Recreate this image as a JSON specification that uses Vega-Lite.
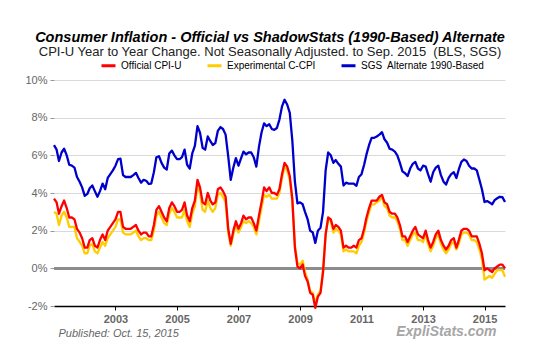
{
 "$schema": "https://vega.github.io/schema/vega-lite/v6.json",
 "width": 451,
 "height": 226,
 "autosize": {"type": "none"},
 "padding": {"left": 54, "top": 80, "right": 35, "bottom": 50},
 "background": "white",
 "config": {
  "font": "Liberation Sans",
  "view": {"stroke": null},
  "axisX": {"domainColor": "#000", "domainWidth": 1.5, "tickColor": "#000", "tickSize": 4, "labelFontWeight": "bold", "labelColor": "#666", "labelFontSize": 11, "labelPadding": 3, "grid": false, "labelFont": "Liberation Sans"},
  "axisY": {"domain": false, "grid": true, "gridColor": "#d9d9d9", "gridWidth": 1, "tickColor": "#999", "tickSize": 4, "labelColor": "#666", "labelFontSize": 11, "labelPadding": 3, "labelFont": "Liberation Sans", "labelOverlap": false}
 },
 "title": {
  "text": "Consumer Inflation - Official vs ShadowStats (1990-Based) Alternate",
  "subtitle": "CPI-U Year to Year Change. Not Seasonally Adjusted. to Sep. 2015\u00a0 (BLS, SGS)",
  "anchor": "middle", "frame": "group", "dx": -9.5, "offset": -3,
  "font": "Liberation Sans", "fontSize": 14.5, "fontStyle": "italic", "fontWeight": "bold", "color": "#000",
  "subtitleFont": "Liberation Sans", "subtitleFontSize": 13, "subtitleColor": "#222", "subtitlePadding": 1
 },
 "data": {"values": [
{"date":"2001-01-01","cpi":3.7,"ccpi":3.0,"sgs":6.54},
{"date":"2001-02-01","cpi":3.5,"ccpi":2.9,"sgs":6.3},
{"date":"2001-03-01","cpi":2.9,"ccpi":2.3,"sgs":5.7},
{"date":"2001-04-01","cpi":3.3,"ccpi":2.8,"sgs":6.15},
{"date":"2001-05-01","cpi":3.6,"ccpi":3.0,"sgs":6.35},
{"date":"2001-06-01","cpi":3.2,"ccpi":2.7,"sgs":6.0},
{"date":"2001-07-01","cpi":2.7,"ccpi":2.2,"sgs":5.5},
{"date":"2001-08-01","cpi":2.7,"ccpi":2.2,"sgs":5.45},
{"date":"2001-09-01","cpi":2.6,"ccpi":2.2,"sgs":5.35},
{"date":"2001-10-01","cpi":2.1,"ccpi":1.6,"sgs":4.85},
{"date":"2001-11-01","cpi":1.9,"ccpi":1.4,"sgs":4.6},
{"date":"2001-12-01","cpi":1.6,"ccpi":1.2,"sgs":4.3},
{"date":"2002-01-01","cpi":1.1,"ccpi":0.8,"sgs":3.85},
{"date":"2002-02-01","cpi":1.1,"ccpi":0.8,"sgs":3.95},
{"date":"2002-03-01","cpi":1.5,"ccpi":1.2,"sgs":4.25},
{"date":"2002-04-01","cpi":1.6,"ccpi":1.3,"sgs":4.4},
{"date":"2002-05-01","cpi":1.2,"ccpi":0.9,"sgs":4.1},
{"date":"2002-06-01","cpi":1.1,"ccpi":0.8,"sgs":3.8},
{"date":"2002-07-01","cpi":1.5,"ccpi":1.1,"sgs":4.1},
{"date":"2002-08-01","cpi":1.8,"ccpi":1.4,"sgs":4.5},
{"date":"2002-09-01","cpi":1.5,"ccpi":1.2,"sgs":4.2},
{"date":"2002-10-01","cpi":2.0,"ccpi":1.6,"sgs":4.8},
{"date":"2002-11-01","cpi":2.2,"ccpi":1.8,"sgs":5.0},
{"date":"2002-12-01","cpi":2.4,"ccpi":2.0,"sgs":5.2},
{"date":"2003-01-01","cpi":2.6,"ccpi":2.2,"sgs":5.45},
{"date":"2003-02-01","cpi":3.0,"ccpi":2.6,"sgs":5.8},
{"date":"2003-03-01","cpi":3.0,"ccpi":2.6,"sgs":5.82},
{"date":"2003-04-01","cpi":2.2,"ccpi":1.9,"sgs":4.95},
{"date":"2003-05-01","cpi":2.1,"ccpi":1.8,"sgs":4.85},
{"date":"2003-06-01","cpi":2.1,"ccpi":1.8,"sgs":4.85},
{"date":"2003-07-01","cpi":2.1,"ccpi":1.8,"sgs":4.85},
{"date":"2003-08-01","cpi":2.2,"ccpi":1.9,"sgs":4.95},
{"date":"2003-09-01","cpi":2.3,"ccpi":2.0,"sgs":5.07},
{"date":"2003-10-01","cpi":2.0,"ccpi":1.7,"sgs":4.8},
{"date":"2003-11-01","cpi":1.8,"ccpi":1.5,"sgs":4.55},
{"date":"2003-12-01","cpi":1.9,"ccpi":1.6,"sgs":4.7},
{"date":"2004-01-01","cpi":1.9,"ccpi":1.6,"sgs":4.65},
{"date":"2004-02-01","cpi":1.7,"ccpi":1.5,"sgs":4.48},
{"date":"2004-03-01","cpi":1.7,"ccpi":1.5,"sgs":4.5},
{"date":"2004-04-01","cpi":2.3,"ccpi":2.0,"sgs":5.1},
{"date":"2004-05-01","cpi":3.1,"ccpi":2.8,"sgs":5.9},
{"date":"2004-06-01","cpi":3.3,"ccpi":3.0,"sgs":5.95},
{"date":"2004-07-01","cpi":3.0,"ccpi":2.7,"sgs":5.6},
{"date":"2004-08-01","cpi":2.7,"ccpi":2.4,"sgs":5.35},
{"date":"2004-09-01","cpi":2.5,"ccpi":2.3,"sgs":5.25},
{"date":"2004-10-01","cpi":3.2,"ccpi":2.9,"sgs":6.1},
{"date":"2004-11-01","cpi":3.5,"ccpi":3.2,"sgs":6.25},
{"date":"2004-12-01","cpi":3.3,"ccpi":3.0,"sgs":6.0},
{"date":"2005-01-01","cpi":3.0,"ccpi":2.7,"sgs":5.8},
{"date":"2005-02-01","cpi":3.0,"ccpi":2.7,"sgs":5.8},
{"date":"2005-03-01","cpi":3.1,"ccpi":2.7,"sgs":5.9},
{"date":"2005-04-01","cpi":3.5,"ccpi":3.1,"sgs":6.3},
{"date":"2005-05-01","cpi":2.8,"ccpi":2.5,"sgs":5.5},
{"date":"2005-06-01","cpi":2.5,"ccpi":2.2,"sgs":5.3},
{"date":"2005-07-01","cpi":3.2,"ccpi":2.9,"sgs":6.1},
{"date":"2005-08-01","cpi":3.6,"ccpi":3.3,"sgs":6.5},
{"date":"2005-09-01","cpi":4.7,"ccpi":4.4,"sgs":7.55},
{"date":"2005-10-01","cpi":4.3,"ccpi":4.0,"sgs":7.2},
{"date":"2005-11-01","cpi":3.5,"ccpi":3.1,"sgs":6.4},
{"date":"2005-12-01","cpi":3.4,"ccpi":3.0,"sgs":6.3},
{"date":"2006-01-01","cpi":4.0,"ccpi":3.6,"sgs":7.0},
{"date":"2006-02-01","cpi":3.6,"ccpi":3.2,"sgs":6.75},
{"date":"2006-03-01","cpi":3.4,"ccpi":3.0,"sgs":6.55},
{"date":"2006-04-01","cpi":3.5,"ccpi":3.2,"sgs":6.65},
{"date":"2006-05-01","cpi":4.2,"ccpi":3.9,"sgs":7.3},
{"date":"2006-06-01","cpi":4.3,"ccpi":4.0,"sgs":7.5},
{"date":"2006-07-01","cpi":4.1,"ccpi":3.8,"sgs":7.4},
{"date":"2006-08-01","cpi":3.8,"ccpi":3.5,"sgs":7.1},
{"date":"2006-09-01","cpi":2.1,"ccpi":1.9,"sgs":5.95},
{"date":"2006-10-01","cpi":1.3,"ccpi":1.2,"sgs":4.7},
{"date":"2006-11-01","cpi":2.0,"ccpi":1.8,"sgs":5.35},
{"date":"2006-12-01","cpi":2.5,"ccpi":2.3,"sgs":5.85},
{"date":"2007-01-01","cpi":2.1,"ccpi":1.9,"sgs":5.45},
{"date":"2007-02-01","cpi":2.4,"ccpi":2.2,"sgs":5.85},
{"date":"2007-03-01","cpi":2.8,"ccpi":2.5,"sgs":6.2},
{"date":"2007-04-01","cpi":2.6,"ccpi":2.4,"sgs":6.05},
{"date":"2007-05-01","cpi":2.7,"ccpi":2.5,"sgs":6.15},
{"date":"2007-06-01","cpi":2.7,"ccpi":2.4,"sgs":6.15},
{"date":"2007-07-01","cpi":2.4,"ccpi":2.2,"sgs":5.9},
{"date":"2007-08-01","cpi":2.0,"ccpi":1.8,"sgs":5.4},
{"date":"2007-09-01","cpi":2.8,"ccpi":2.5,"sgs":6.45},
{"date":"2007-10-01","cpi":3.5,"ccpi":3.2,"sgs":7.2},
{"date":"2007-11-01","cpi":4.3,"ccpi":3.9,"sgs":7.7},
{"date":"2007-12-01","cpi":4.1,"ccpi":3.8,"sgs":7.55},
{"date":"2008-01-01","cpi":4.3,"ccpi":3.9,"sgs":7.65},
{"date":"2008-02-01","cpi":4.0,"ccpi":3.7,"sgs":7.4},
{"date":"2008-03-01","cpi":4.0,"ccpi":3.7,"sgs":7.35},
{"date":"2008-04-01","cpi":3.9,"ccpi":3.7,"sgs":7.45},
{"date":"2008-05-01","cpi":4.2,"ccpi":4.0,"sgs":7.9},
{"date":"2008-06-01","cpi":5.0,"ccpi":4.8,"sgs":8.6},
{"date":"2008-07-01","cpi":5.6,"ccpi":5.4,"sgs":8.95},
{"date":"2008-08-01","cpi":5.4,"ccpi":5.2,"sgs":8.7},
{"date":"2008-09-01","cpi":4.9,"ccpi":4.7,"sgs":8.25},
{"date":"2008-10-01","cpi":3.7,"ccpi":3.6,"sgs":6.8},
{"date":"2008-11-01","cpi":1.1,"ccpi":1.2,"sgs":4.6},
{"date":"2008-12-01","cpi":0.1,"ccpi":0.3,"sgs":3.45},
{"date":"2009-01-01","cpi":0.0,"ccpi":0.2,"sgs":3.5},
{"date":"2009-02-01","cpi":0.2,"ccpi":0.4,"sgs":3.4},
{"date":"2009-03-01","cpi":-0.4,"ccpi":-0.2,"sgs":3.0},
{"date":"2009-04-01","cpi":-0.7,"ccpi":-0.6,"sgs":2.6},
{"date":"2009-05-01","cpi":-1.3,"ccpi":-1.2,"sgs":2.0},
{"date":"2009-06-01","cpi":-1.4,"ccpi":-1.3,"sgs":1.9},
{"date":"2009-07-01","cpi":-2.1,"ccpi":-1.9,"sgs":1.35},
{"date":"2009-08-01","cpi":-1.5,"ccpi":-1.4,"sgs":2.0},
{"date":"2009-09-01","cpi":-1.3,"ccpi":-1.2,"sgs":2.15},
{"date":"2009-10-01","cpi":-0.2,"ccpi":-0.1,"sgs":3.0},
{"date":"2009-11-01","cpi":1.8,"ccpi":1.8,"sgs":5.2},
{"date":"2009-12-01","cpi":2.7,"ccpi":2.6,"sgs":6.15},
{"date":"2010-01-01","cpi":2.6,"ccpi":2.5,"sgs":6.0},
{"date":"2010-02-01","cpi":2.1,"ccpi":1.9,"sgs":5.6},
{"date":"2010-03-01","cpi":2.3,"ccpi":2.1,"sgs":5.75},
{"date":"2010-04-01","cpi":2.2,"ccpi":2.0,"sgs":5.55},
{"date":"2010-05-01","cpi":2.0,"ccpi":1.8,"sgs":5.4},
{"date":"2010-06-01","cpi":1.1,"ccpi":0.9,"sgs":4.4},
{"date":"2010-07-01","cpi":1.2,"ccpi":1.0,"sgs":4.55},
{"date":"2010-08-01","cpi":1.1,"ccpi":0.9,"sgs":4.5},
{"date":"2010-09-01","cpi":1.1,"ccpi":0.9,"sgs":4.5},
{"date":"2010-10-01","cpi":1.2,"ccpi":0.9,"sgs":4.5},
{"date":"2010-11-01","cpi":1.1,"ccpi":0.8,"sgs":4.38},
{"date":"2010-12-01","cpi":1.5,"ccpi":1.2,"sgs":4.85},
{"date":"2011-01-01","cpi":1.6,"ccpi":1.4,"sgs":5.0},
{"date":"2011-02-01","cpi":2.1,"ccpi":1.9,"sgs":5.5},
{"date":"2011-03-01","cpi":2.7,"ccpi":2.5,"sgs":6.05},
{"date":"2011-04-01","cpi":3.2,"ccpi":3.0,"sgs":6.55},
{"date":"2011-05-01","cpi":3.6,"ccpi":3.4,"sgs":6.93},
{"date":"2011-06-01","cpi":3.6,"ccpi":3.4,"sgs":6.93},
{"date":"2011-07-01","cpi":3.6,"ccpi":3.5,"sgs":7.0},
{"date":"2011-08-01","cpi":3.8,"ccpi":3.6,"sgs":7.1},
{"date":"2011-09-01","cpi":3.9,"ccpi":3.8,"sgs":7.23},
{"date":"2011-10-01","cpi":3.5,"ccpi":3.3,"sgs":6.85},
{"date":"2011-11-01","cpi":3.4,"ccpi":3.2,"sgs":6.67},
{"date":"2011-12-01","cpi":3.0,"ccpi":2.8,"sgs":6.35},
{"date":"2012-01-01","cpi":2.9,"ccpi":2.7,"sgs":6.3},
{"date":"2012-02-01","cpi":2.9,"ccpi":2.7,"sgs":6.2},
{"date":"2012-03-01","cpi":2.7,"ccpi":2.5,"sgs":6.0},
{"date":"2012-04-01","cpi":2.3,"ccpi":2.1,"sgs":5.6},
{"date":"2012-05-01","cpi":1.7,"ccpi":1.5,"sgs":5.15},
{"date":"2012-06-01","cpi":1.7,"ccpi":1.5,"sgs":5.05},
{"date":"2012-07-01","cpi":1.4,"ccpi":1.2,"sgs":4.9},
{"date":"2012-08-01","cpi":1.7,"ccpi":1.5,"sgs":5.3},
{"date":"2012-09-01","cpi":2.0,"ccpi":1.8,"sgs":5.55},
{"date":"2012-10-01","cpi":2.2,"ccpi":1.9,"sgs":5.65},
{"date":"2012-11-01","cpi":1.8,"ccpi":1.5,"sgs":5.3},
{"date":"2012-12-01","cpi":1.7,"ccpi":1.5,"sgs":5.2},
{"date":"2013-01-01","cpi":1.6,"ccpi":1.4,"sgs":5.45},
{"date":"2013-02-01","cpi":2.0,"ccpi":1.8,"sgs":5.4},
{"date":"2013-03-01","cpi":1.5,"ccpi":1.3,"sgs":5.0},
{"date":"2013-04-01","cpi":1.1,"ccpi":0.9,"sgs":4.6},
{"date":"2013-05-01","cpi":1.4,"ccpi":1.2,"sgs":5.1},
{"date":"2013-06-01","cpi":1.8,"ccpi":1.6,"sgs":5.35},
{"date":"2013-07-01","cpi":2.0,"ccpi":1.8,"sgs":5.45},
{"date":"2013-08-01","cpi":1.5,"ccpi":1.3,"sgs":4.95},
{"date":"2013-09-01","cpi":1.2,"ccpi":1.0,"sgs":4.6},
{"date":"2013-10-01","cpi":1.0,"ccpi":0.8,"sgs":4.45},
{"date":"2013-11-01","cpi":1.2,"ccpi":1.0,"sgs":4.8},
{"date":"2013-12-01","cpi":1.5,"ccpi":1.3,"sgs":5.0},
{"date":"2014-01-01","cpi":1.6,"ccpi":1.4,"sgs":5.1},
{"date":"2014-02-01","cpi":1.1,"ccpi":1.0,"sgs":4.8},
{"date":"2014-03-01","cpi":1.5,"ccpi":1.3,"sgs":5.25},
{"date":"2014-04-01","cpi":2.0,"ccpi":1.8,"sgs":5.65},
{"date":"2014-05-01","cpi":2.1,"ccpi":1.9,"sgs":5.78},
{"date":"2014-06-01","cpi":2.1,"ccpi":1.9,"sgs":5.7},
{"date":"2014-07-01","cpi":2.0,"ccpi":1.8,"sgs":5.45},
{"date":"2014-08-01","cpi":1.7,"ccpi":1.5,"sgs":5.3},
{"date":"2014-09-01","cpi":1.7,"ccpi":1.5,"sgs":5.3},
{"date":"2014-10-01","cpi":1.7,"ccpi":1.4,"sgs":5.2},
{"date":"2014-11-01","cpi":1.3,"ccpi":1.0,"sgs":4.7},
{"date":"2014-12-01","cpi":0.8,"ccpi":0.5,"sgs":4.2},
{"date":"2015-01-01","cpi":-0.1,"ccpi":-0.6,"sgs":3.52},
{"date":"2015-02-01","cpi":0.0,"ccpi":-0.5,"sgs":3.57},
{"date":"2015-03-01","cpi":-0.1,"ccpi":-0.4,"sgs":3.5},
{"date":"2015-04-01","cpi":-0.2,"ccpi":-0.5,"sgs":3.4},
{"date":"2015-05-01","cpi":0.0,"ccpi":-0.3,"sgs":3.62},
{"date":"2015-06-01","cpi":0.1,"ccpi":-0.1,"sgs":3.72},
{"date":"2015-07-01","cpi":0.2,"ccpi":-0.1,"sgs":3.8},
{"date":"2015-08-01","cpi":0.2,"ccpi":-0.1,"sgs":3.78},
{"date":"2015-09-01","cpi":0.0,"ccpi":-0.45,"sgs":3.52}
 ]},
 "layer": [
  {
   "mark": {"type": "rule", "color": "#8c8c8c", "strokeWidth": 2.5},
   "encoding": {"y": {"datum": 0, "type": "quantitative", "scale": {"domain": [-2, 10]},
     "axis": {"values": [-2, 0, 2, 4, 6, 8, 10], "tickCount": 12, "labelExpr": "datum.value + '%'", "title": null, "grid": true, "labelOverlap": false}}}
  },
  {
   "transform": [{"fold": ["ccpi", "cpi", "sgs"], "as": ["series", "value"]}],
   "mark": {"type": "line", "strokeWidth": 2.3, "strokeJoin": "round"},
   "encoding": {
    "x": {"field": "date", "type": "temporal",
     "scale": {"type": "utc", "domain": [{"year": 2001, "month": 1, "date": 1, "utc": true}, {"year": 2015, "month": 9, "date": 1, "utc": true}]},
     "axis": {"values": [{"year": 2003, "utc": true}, {"year": 2005, "utc": true}, {"year": 2007, "utc": true}, {"year": 2009, "utc": true}, {"year": 2011, "utc": true}, {"year": 2013, "utc": true}, {"year": 2015, "utc": true}],
      "tickCount": 12, "format": "%Y", "title": "Published: Oct. 15, 2015", "titleAnchor": "start", "titleAlign": "left", "titleX": 4, "titleFontStyle": "italic", "titleFontWeight": "normal", "titleColor": "#666", "titleFontSize": 11, "titlePadding": 3, "titleFont": "Liberation Sans"}},
    "y": {"field": "value", "type": "quantitative",
     "scale": {"domain": [-2, 10]},
     "axis": {"values": [-2, 0, 2, 4, 6, 8, 10], "tickCount": 12, "labelExpr": "datum.value + '%'", "title": null, "grid": true, "labelOverlap": false}},
    "color": {"field": "series", "type": "nominal",
     "scale": {"domain": ["cpi", "ccpi", "sgs"], "range": ["#ff0000", "#ffcc00", "#0000cc"]},
     "legend": {"orient": "none", "legendX": 46, "legendY": -23, "direction": "horizontal", "title": null, "padding": 0,
      "symbolType": "stroke", "symbolStrokeWidth": 3, "symbolSize": 196, "labelFontSize": 10, "labelColor": "#000", "labelFont": "Liberation Sans",
      "columnPadding": 19, "labelOffset": 4,
      "labelExpr": "datum.value == 'cpi' ? 'Official CPI-U' : datum.value == 'ccpi' ? 'Experimental C-CPI' : 'SGS\u00a0 Alternate 1990-Based'"}}
   }
  },
  {
   "data": {"values": [{"site": "ExpliStats.com"}]},
   "mark": {"type": "text", "font": "Liberation Sans", "fontSize": 14, "fontWeight": "bold", "fontStyle": "italic", "color": "#a6a6a6", "align": "center", "baseline": "middle"},
   "encoding": {
    "x": {"datum": {"year": 2013, "month": 10, "date": 5, "utc": true}, "type": "temporal"},
    "y": {"datum": -3.4, "type": "quantitative"},
    "text": {"field": "site", "type": "nominal"}
   }
  }
 ]
}
